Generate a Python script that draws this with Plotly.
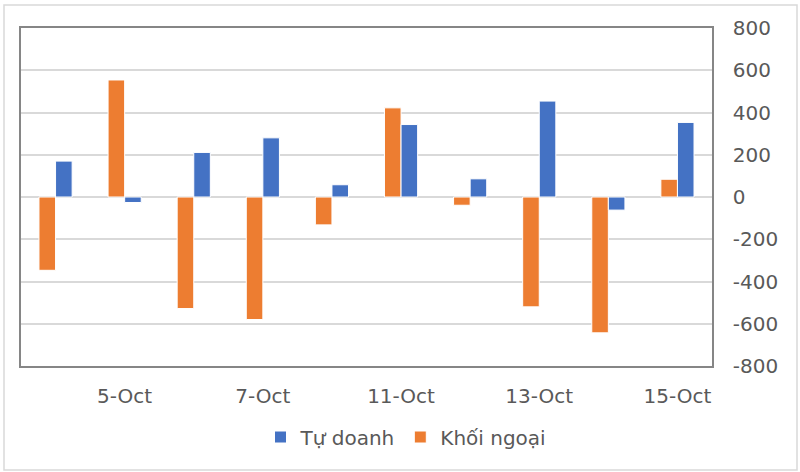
import plotly.graph_objects as go

categories = ["4-Oct", "5-Oct", "6-Oct", "7-Oct", "8-Oct",
              "11-Oct", "12-Oct", "13-Oct", "14-Oct", "15-Oct"]
tick_labels = ["5-Oct", "7-Oct", "11-Oct", "13-Oct", "15-Oct"]
khoi_ngoai = [-347, 554, -528, -580, -132, 422, -39, -520, -643, 84]
tu_doanh = [170, -26, 211, 280, 58, 343, 86, 454, -62, 353]
y_ticks = [-800, -600, -400, -200, 0, 200, 400, 600, 800]
y_tick_text = [str(v) for v in y_ticks]

FONT = "DejaVu Sans"
TXT = "#595959"

fig = go.Figure()
fig.add_trace(go.Bar(x=categories, y=khoi_ngoai, name="Khối ngoại",
                     marker=dict(color="#ED7D31", line=dict(color="white", width=1))))
fig.add_trace(go.Bar(x=categories, y=tu_doanh, name="Tự doanh",
                     marker=dict(color="#4472C4", line=dict(color="white", width=1))))

L, R, T, B = 21, 88, 28, 106
W, H = 800, 472
pw, ph = W - L - R, H - T - B

def px(x):
    return (x - L) / pw

def py(y):
    return (H - B - y) / ph

fig.update_layout(
    width=W, height=H,
    margin=dict(l=L, r=R, t=T, b=B, pad=0, autoexpand=False),
    paper_bgcolor="white", plot_bgcolor="white",
    barmode="group", bargap=0.52, bargroupgap=0,
    font=dict(family=FONT, size=20, color=TXT),
    showlegend=True,
    legend=dict(orientation="h", traceorder="reversed",
                x=px(406), xanchor="center", y=py(437), yanchor="middle",
                font=dict(family=FONT, size=20, color=TXT),
                itemwidth=30, tracegroupgap=0),
    xaxis=dict(type="category", tickmode="array", tickvals=tick_labels,
               ticktext=tick_labels, showgrid=False, showline=True, mirror=True,
               linecolor="#868686", linewidth=1.5, ticks="",
               ticklabelstandoff=11, automargin=False,
               tickfont=dict(family=FONT, size=20, color=TXT)),
    yaxis=dict(side="right", range=[-800, 800], tickmode="array",
               tickvals=y_ticks, ticktext=y_tick_text,
               showgrid=True, gridcolor="#D9D9D9", gridwidth=1.5,
               zeroline=True, zerolinecolor="#D9D9D9", zerolinewidth=1.5,
               showline=True, mirror=True, linecolor="#868686", linewidth=1.5,
               ticks="", ticklabelstandoff=15, automargin=False,
               tickfont=dict(family=FONT, size=20, color=TXT)),
    shapes=[dict(type="rect", xref="paper", yref="paper",
                 x0=px(4), x1=px(797), y0=py(470), y1=py(5),
                 line=dict(color="#D9D9D9", width=1.5), layer="below")],
)

fig.write_html("out.html", config={"displayModeBar": False},
               post_script="document.body.style.margin='0';document.body.style.overflow='hidden';")
